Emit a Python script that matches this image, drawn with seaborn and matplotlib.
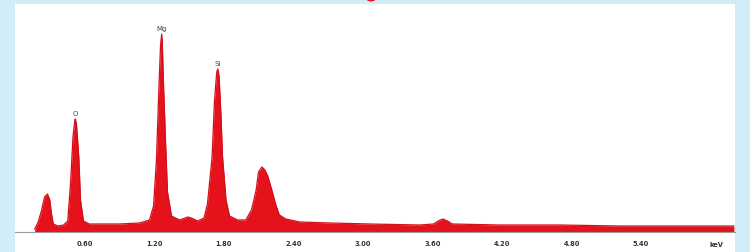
import numpy as np
import pandas as pd
import matplotlib
matplotlib.use("Agg")
import matplotlib.pyplot as plt
import seaborn as sns
from matplotlib.patches import Rectangle, Ellipse

# Espectro EDS (energía en keV, cuentas en unidades arbitrarias)
energia = [0.17, 0.20, 0.23, 0.255, 0.28, 0.30, 0.315, 0.33, 0.37, 0.42,
           0.455, 0.48, 0.50, 0.515, 0.52, 0.53, 0.55, 0.565, 0.59, 0.64,
           0.73, 0.90, 1.075, 1.16, 1.195, 1.22, 1.24, 1.255, 1.265, 1.27,
           1.28, 1.30, 1.315, 1.35, 1.42, 1.49, 1.52, 1.575, 1.63, 1.66,
           1.70, 1.72, 1.74, 1.75, 1.76, 1.775, 1.79, 1.82, 1.85, 1.92,
           1.99, 2.04, 2.08, 2.10, 2.13, 2.155, 2.18, 2.215, 2.25, 2.28,
           2.335, 2.455, 2.72, 3.06, 3.49, 3.61, 3.65, 3.69, 3.73, 3.77,
           4.18, 4.70, 5.22, 5.74, 6.20]
cuentas = [3, 10, 22, 35, 38, 32, 18, 8, 6, 7,
           11, 50, 95, 111, 113, 108, 75, 32, 11, 8,
           8, 8, 9, 12, 26, 72, 140, 186, 198, 190,
           150, 85, 40, 16, 12, 15, 14, 11, 14, 28,
           75, 130, 160, 163, 156, 120, 75, 32, 16, 12,
           12, 22, 42, 60, 65, 62, 56, 42, 27, 17,
           13, 10, 9, 8, 7, 8, 11, 13, 11, 8,
           7, 7, 6, 6, 6]

# Etiquetas de picos
picos_nombre = ["O", "Mg", "Si"]
picos_energia = [0.52, 1.265, 1.75]
picos_altura = [113, 198, 163]

# Marcas del eje x
ticks_pos = [0.60, 1.20, 1.80, 2.40, 3.00, 3.60, 4.20, 4.80, 5.40]
ticks_lab = ["0.60", "1.20", "1.80", "2.40", "3.00", "3.60", "4.20", "4.80", "5.40"]

df = pd.DataFrame({"energia": energia, "cuentas": cuentas})

sns.set_style("white")
fig = plt.figure(figsize=(7.5, 2.53), dpi=100)
fig.patch.set_facecolor("#d3edf8")

# Panel blanco
fig.add_artist(Rectangle((15 / 750, 0), 720 / 750, 248 / 253,
                         transform=fig.transFigure, facecolor="white",
                         edgecolor="none", zorder=0))
# Punta roja arriba
fig.add_artist(Ellipse((371 / 750, 1.01), 12 / 750, 10 / 253,
                       transform=fig.transFigure, facecolor="#e0101a",
                       edgecolor="none", zorder=1))

ax = fig.add_axes([15 / 750, 20 / 253, 720 / 750, 228 / 253])
ax.set_facecolor("none")

ax.fill_between(df["energia"], 0, df["cuentas"], color="#e5121b", linewidth=0)
sns.lineplot(data=df, x="energia", y="cuentas", ax=ax, color="#d0101a",
             linewidth=0.9)

for nombre, e, h in zip(picos_nombre, picos_energia, picos_altura):
    ax.text(e, h + 3, nombre, ha="center", va="bottom", fontsize=5,
            color="#444444")

ax.set_xlim(0, 6.21)
ax.set_ylim(0, 228)
ax.set_xticks(ticks_pos)
ax.set_xticklabels(ticks_lab, fontsize=4.8, fontweight="bold", color="#333333")
ax.tick_params(axis="x", length=2, width=0.5, color="#888888", pad=4)
ax.set_yticks([])
ax.text(6.05, -9, "keV", ha="center", va="top", fontsize=4.8,
        fontweight="bold", color="#333333")
ax.set_xlabel("")
ax.set_ylabel("")

for lado in ["top", "right", "left"]:
    ax.spines[lado].set_visible(False)
ax.spines["bottom"].set_color("#999999")
ax.spines["bottom"].set_linewidth(0.8)

fig.savefig("out.png", dpi=100, facecolor=fig.get_facecolor())
